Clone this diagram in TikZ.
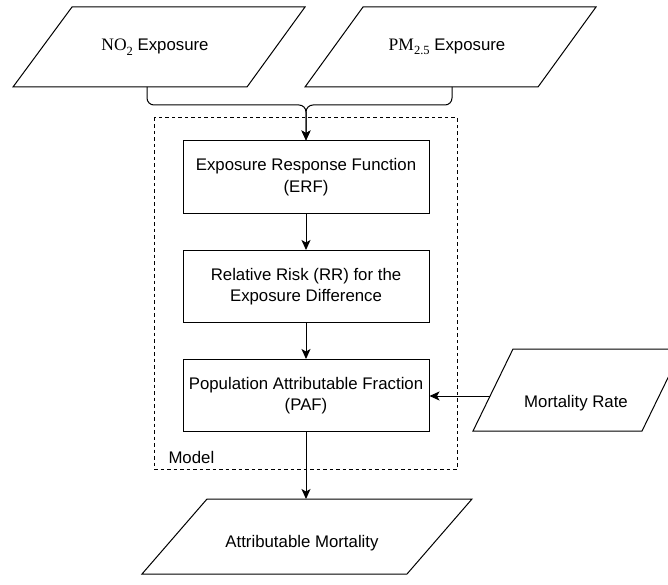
\documentclass[tikz,border=0pt]{standalone}
\usepackage{fontspec}
\setmainfont{Liberation Sans}
\newfontfamily\seriffont{Liberation Serif}
\usetikzlibrary{arrows.meta}
\newcommand\lowsub[1]{\raisebox{-4.5pt}{\fontsize{12.5}{12.5}\selectfont #1}}
\begin{document}
\begin{tikzpicture}[x=1pt,y=-1pt,
  line width=1pt,
  every node/.style={font=\fontsize{16.8}{21.5}\selectfont},
  procbox/.style={draw, line width=1pt, minimum width=246pt, minimum height=72pt, align=center, inner sep=2pt},
  para/.style={draw, line width=1pt, line join=miter},
  txt/.style={align=center, inner sep=1pt},
  arr/.style={-{Stealth[length=10pt,width=9pt,inset=2.5pt]}, line width=1pt},
  modelbox/.style={draw, line width=1pt, dash pattern=on 3.5pt off 3pt}
]
\useasboundingbox (0,0) rectangle (668,585);

% input parallelograms
\draw[para] (72,7) -- (305,7) -- (247,87) -- (13,87) -- cycle;
\node[txt] (no2) at (155,47) {{\seriffont\fontsize{17.5}{21.5}\selectfont NO\lowsub{2}} Exposure};
\draw[para] (363,7) -- (596,7) -- (538,87) -- (305,87) -- cycle;
\node[txt] (pm) at (447,47) {{\seriffont\fontsize{17.5}{21.5}\selectfont PM\lowsub{2.5}} Exposure};
\coordinate (no2b) at (147,87);
\coordinate (pmb) at (452,87);
\coordinate (join) at (306,105);

% model frame
\draw[modelbox] (154,118) rectangle (457,469);
\node[anchor=west, inner sep=0pt] (model) at (168,457) {Model};

% process boxes
\node[procbox] (erf) at (306,177) {Exposure Response Function\\(ERF)};
\node[procbox] (rr) at (306,286.5) {Relative Risk (RR) for the\\Exposure Difference};
\node[procbox] (paf) at (306,395.5) {Population Attributable Fraction\\(PAF)};

% mortality rate
\draw[para] (513,349) -- (682,349) -- (642,431) -- (473,431) -- cycle;
\node[txt] (mort) at (576,403) {Mortality Rate};
\coordinate (mortl) at (490,396);

% attributable mortality
\draw[para] (207,499) -- (472,499) -- (407,574) -- (142,574) -- cycle;
\node[txt] (am) at (302,543) {Attributable Mortality};
\coordinate (amt) at (306,499);

% connectors
\draw[arr, rounded corners=7pt] (no2b) |- (join) -- (erf.north);
\draw[arr, rounded corners=7pt] (pmb) |- (join) -- (erf.north);
\draw[arr] (erf) -- (rr);
\draw[arr] (rr) -- (paf);
\draw[arr] (mortl) -- (paf.east |- mortl);
\draw[arr] (paf) -- (amt);
\end{tikzpicture}
\end{document}
